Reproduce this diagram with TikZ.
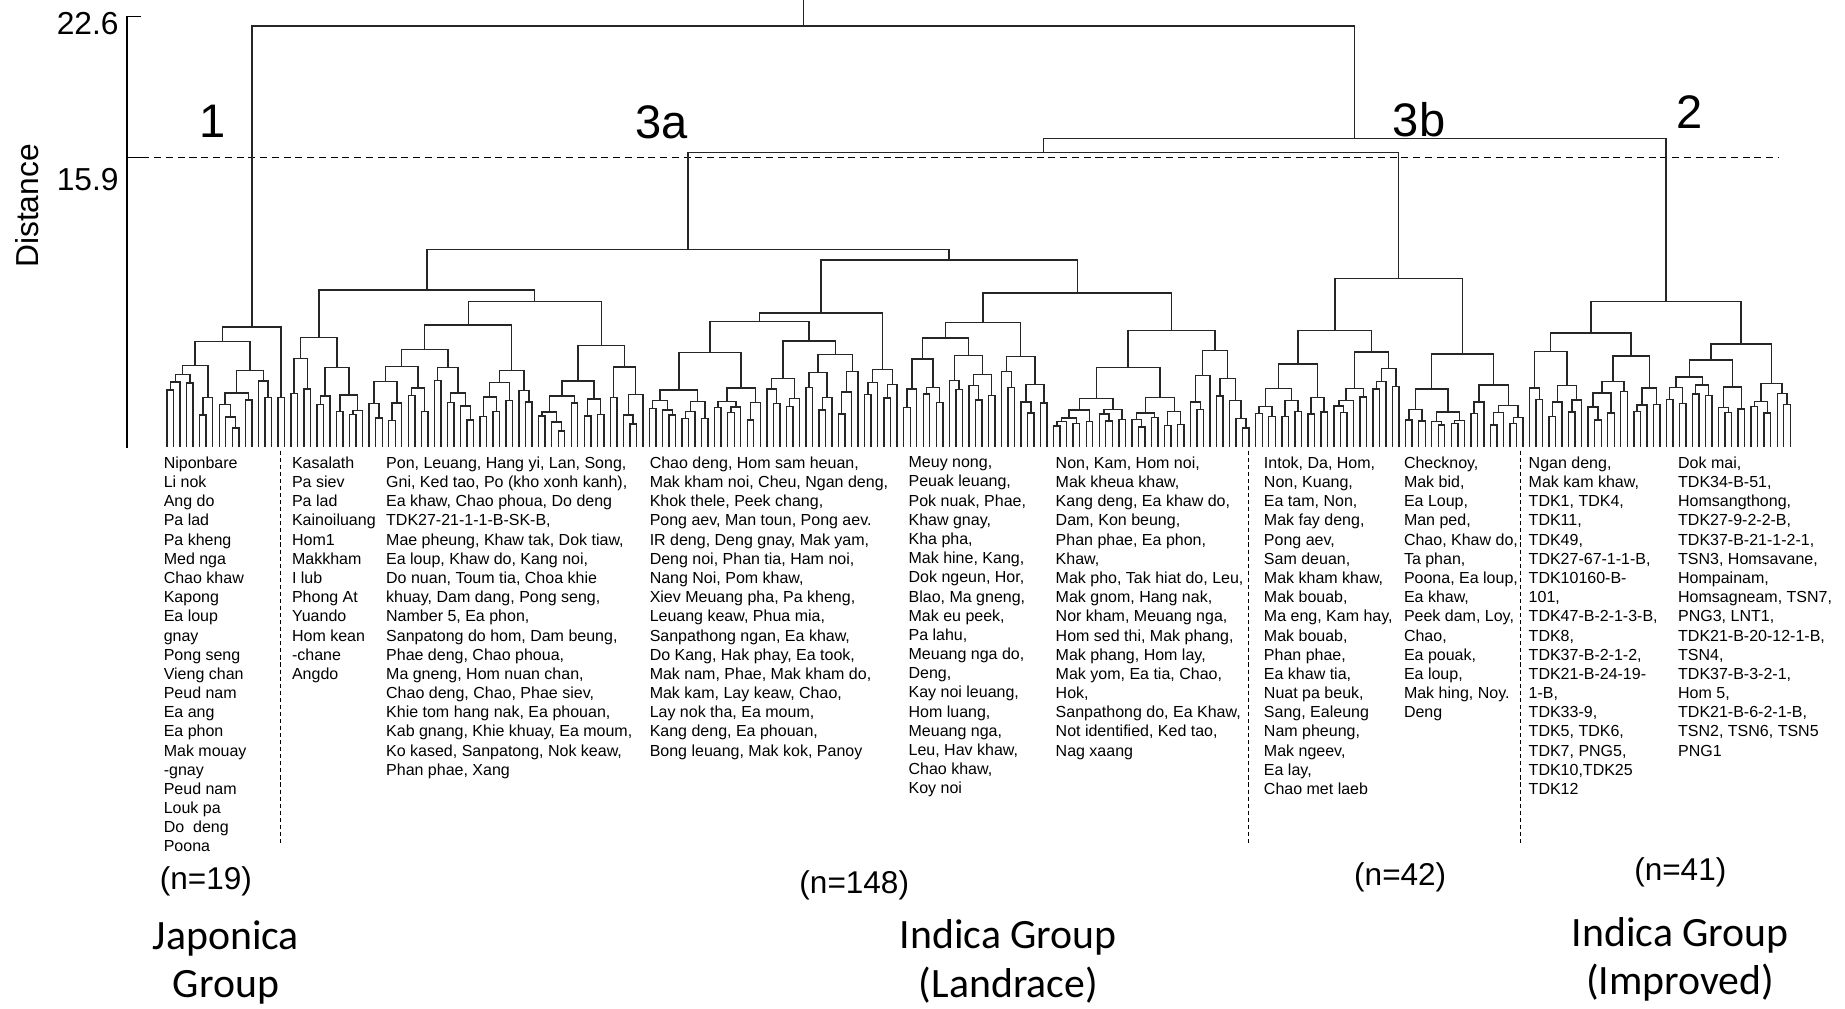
\documentclass[tikz,border=0pt]{standalone}
\usepackage{fontspec}
\setmainfont{Liberation Sans}
\newfontfamily\calfont{Carlito}
\usetikzlibrary{calc}

\tikzset{
  branch/.style={line width=1.2pt, black!85},
  axisline/.style={line width=1pt, black},
  cutline/.style={line width=1pt, black, dash pattern=on 6pt off 4pt},
  sepline/.style={line width=0.8pt, black, dash pattern=on 3.5pt off 2.5pt},
  leaflist/.style={font=\fontsize{13.6}{16.3}\selectfont, align=left, anchor=north west, inner sep=0pt},
  axislab/.style={font=\fontsize{27}{30}\selectfont, inner sep=0pt},
  clab/.style={font=\fontsize{40}{44}\selectfont, inner sep=0pt},
  nlab/.style={font=\fontsize{26.8}{30}\selectfont, inner sep=0pt},
  grp/.style={font=\calfont\fontsize{35.5}{41}\selectfont, align=center, inner sep=0pt}
}

% random sub-dendrogram over leaves #1..#2, bar at height #3 (result in \dX,\dY)
\newcommand\dtree[3]{%
  \begingroup
  \edef\dA{#1}\edef\dB{#2}\edef\dH{#3}%
  \ifnum\dA=\dB\relax
    \pgfmathsetmacro\dX{142+5.54*\dA}%
    \xdef\dX{\dX}\xdef\dY{380}%
  \else
    \pgfmathtruncatemacro\dCut{\dA+floor((\dB-\dA)*(0.3+0.4*rnd))}%
    \pgfmathtruncatemacro\dCutb{\dCut+1}%
    \pgfmathsetmacro\hL{\dH+(380-\dH)*(0.1+0.3*rnd)}%
    \pgfmathsetmacro\hR{\dH+(380-\dH)*(0.1+0.3*rnd)}%
    \dtree{\dA}{\dCut}{\hL}\let\xL\dX\let\yL\dY
    \dtree{\dCutb}{\dB}{\hR}\let\xR\dX\let\yR\dY
    \draw[branch] (\xL,\yL) |- (\xR,\dH) -- (\xR,\yR);
    \pgfmathsetmacro\dX{(\xL+\xR)/2}%
    \xdef\dX{\dX}\xdef\dY{\dH}%
  \fi
  \endgroup}
\newcommand\dsub[4]{\dtree{#1}{#2}{#3}\coordinate (#4) at (\dX,\dY);}
\newcommand\djoin[4]{%
  \draw[branch] (#1) |- (#2 |- 0,#3) -- (#2);
  \coordinate (#4) at ($(#1 |- 0,#3)!.5!(#2 |- 0,#3)$);}

\begin{document}
\begin{tikzpicture}[x=1pt, y=-1pt]
\useasboundingbox (0,0) rectangle (1568,857);
\pgfmathsetseed{12}

% axis
\draw[axisline] (120,14) -- (108,14) -- (108,381);
\draw[axisline] (108,134) -- (121,134);
\draw[cutline] (121,134) -- (1512,134);
\node[axislab, anchor=east] (t226) at (101,20) {22.6};
\node[axislab, anchor=east] (t159) at (101,153) {15.9};
\node[axislab, rotate=90] (dist) at (23,175) {Distance};

% cluster 1 (Japonica)
\dsub{0}{16}{290}{j1}
\dsub{17}{18}{338}{j2}
\djoin{j1}{j2}{278}{c1}
% cluster 3a
\dsub{19}{30}{287}{ka}
\dsub{31}{73}{256}{po}
\djoin{ka}{po}{246.5}{l3a}
\dsub{74}{106}{273}{ra}
\dsub{107}{112}{314}{rb}
\djoin{ra}{rb}{266}{r1}
\dsub{113}{135}{274}{rc}
\dsub{136}{166}{281}{rd}
\djoin{rc}{rd}{249}{r2}
\djoin{r1}{r2}{221}{r3a}
\djoin{l3a}{r3a}{212}{c3a}
% cluster 3b
\dsub{167}{189}{281}{ba}
\dsub{190}{208}{301}{bb}
\djoin{ba}{bb}{236.6}{c3b}
% cluster 2 (improved)
\dsub{209}{229}{283}{ia}
\dsub{230}{249}{292.5}{ib}
\djoin{ia}{ib}{256}{c2}
% upper joins
\djoin{c3a}{c3b}{129.5}{nb}
\djoin{nb}{c2}{117.6}{na}
\djoin{c1}{na}{22}{root}
\draw[branch] (root) -- (root |- 0,0);

% cluster numbers
\node[clab] (k1) at (181,103) {1};
\node[clab] (k3a) at (562,104) {3a};
\node[clab] (k3b) at (1206,102) {3b};
\node[clab] (k2) at (1436,95) {2};

% separators between groups
\draw[sepline] (238,383) -- (238,718);
\draw[sepline] (1061,383) -- (1061,718);
\draw[sepline] (1292,383) -- (1292,718);

% accession lists
\node[leaflist] (japlist) at (139,388) {Niponbare\\Li nok\\Ang do\\Pa lad\\Pa kheng\\Med nga\\Chao khaw\\Kapong\\Ea loup\\gnay\\Pong seng\\Vieng chan\\Peud nam\\Ea ang\\Ea phon\\Mak mouay\\-gnay\\Peud nam\\Louk pa\\Do\ \ deng\\Poona};
\node[leaflist] (kaslist) at (248,388) {Kasalath\\Pa siev\\Pa lad\\Kainoiluang\\Hom1\\Makkham\\I lub\\Phong At\\Yuando\\Hom kean\\-chane\\Angdo};
\node[leaflist] (ponlist) at (328,388) {Pon, Leuang, Hang yi, Lan, Song,\\Gni, Ked tao, Po (kho xonh kanh),\\Ea khaw, Chao phoua, Do deng\\TDK27-21-1-1-B-SK-B,\\Mae pheung, Khaw tak, Dok tiaw,\\Ea loup, Khaw do, Kang noi,\\Do nuan, Toum tia, Choa khie\\khuay, Dam dang, Pong seng,\\Namber 5, Ea phon,\\Sanpatong do hom, Dam beung,\\Phae deng, Chao phoua,\\Ma gneng, Hom nuan chan,\\Chao deng, Chao, Phae siev,\\Khie tom hang nak, Ea phouan,\\Kab gnang, Khie khuay, Ea moum,\\Ko kased, Sanpatong, Nok keaw,\\Phan phae, Xang};
\node[leaflist] (chaolist) at (552,388) {Chao deng, Hom sam heuan,\\Mak kham noi, Cheu, Ngan deng,\\Khok thele, Peek chang,\\Pong aev, Man toun, Pong aev.\\IR deng, Deng gnay, Mak yam,\\Deng noi, Phan tia, Ham noi,\\Nang Noi, Pom khaw,\\Xiev Meuang pha, Pa kheng,\\Leuang keaw, Phua mia,\\Sanpathong ngan, Ea khaw,\\Do Kang, Hak phay, Ea took,\\Mak nam, Phae, Mak kham do,\\Mak kam, Lay keaw, Chao,\\Lay nok tha, Ea moum,\\Kang deng, Ea phouan,\\Bong leuang, Mak kok, Panoy};
\node[leaflist] (meuylist) at (772,388) {Meuy nong,\\Peuak leuang,\\Pok nuak, Phae,\\Khaw gnay,\\Kha pha,\\Mak hine, Kang,\\Dok ngeun, Hor,\\Blao, Ma gneng,\\Mak eu peek,\\Pa lahu,\\Meuang nga do,\\Deng,\\Kay noi leuang,\\Hom luang,\\Meuang nga,\\Leu, Hav khaw,\\Chao khaw,\\Koy noi};
\node[leaflist] (nonlist) at (897,388) {Non, Kam, Hom noi,\\Mak kheua khaw,\\Kang deng, Ea khaw do,\\Dam, Kon beung,\\Phan phae, Ea phon,\\Khaw,\\Mak pho, Tak hiat do, Leu,\\Mak gnom, Hang nak,\\Nor kham, Meuang nga,\\Hom sed thi, Mak phang,\\Mak phang, Hom lay,\\Mak yom, Ea tia, Chao,\\Hok,\\Sanpathong do, Ea Khaw,\\Not identified, Ked tao,\\Nag xaang};
\node[leaflist] (intoklist) at (1074,388) {Intok, Da, Hom,\\Non, Kuang,\\Ea tam, Non,\\Mak fay deng,\\Pong aev,\\Sam deuan,\\Mak kham khaw,\\Mak bouab,\\Ma eng, Kam hay,\\Mak bouab,\\Phan phae,\\Ea khaw tia,\\Nuat pa beuk,\\Sang, Ealeung\\Nam pheung,\\Mak ngeev,\\Ea lay,\\Chao met laeb};
\node[leaflist] (checklist) at (1193,388) {Checknoy,\\Mak bid,\\Ea Loup,\\Man ped,\\Chao, Khaw do,\\Ta phan,\\Poona, Ea loup,\\Ea khaw,\\Peek dam, Loy,\\Chao,\\Ea pouak,\\Ea loup,\\Mak hing, Noy.\\Deng};
\node[leaflist] (nganlist) at (1299,388) {Ngan deng,\\Mak kam khaw,\\TDK1, TDK4,\\TDK11,\\TDK49,\\TDK27-67-1-1-B,\\TDK10160-B-\\101,\\TDK47-B-2-1-3-B,\\TDK8,\\TDK37-B-2-1-2,\\TDK21-B-24-19-\\1-B,\\TDK33-9,\\TDK5, TDK6,\\TDK7, PNG5,\\TDK10,TDK25\\TDK12};
\node[leaflist] (doklist) at (1426,388) {Dok mai,\\TDK34-B-51,\\Homsangthong,\\TDK27-9-2-2-B,\\TDK37-B-21-1-2-1,\\TSN3, Homsavane,\\Hompainam,\\Homsagneam, TSN7,\\PNG3, LNT1,\\TDK21-B-20-12-1-B,\\TSN4,\\TDK37-B-3-2-1,\\Hom 5,\\TDK21-B-6-2-1-B,\\TSN2, TSN6, TSN5\\PNG1};

% group sizes and names
\node[nlab] (n19) at (175,749) {(n=19)};
\node[nlab] (n148) at (726,752) {(n=148)};
\node[nlab] (n42) at (1190,746) {(n=42)};
\node[nlab] (n41) at (1428,741) {(n=41)};
\node[grp] (japg) at (192,818) {Japonica\\Group};
\node[grp] (landg) at (857,817) {Indica Group\\(Landrace)};
\node[grp] (impg) at (1428,815) {Indica Group\\(Improved)};
\end{tikzpicture}
\end{document}
